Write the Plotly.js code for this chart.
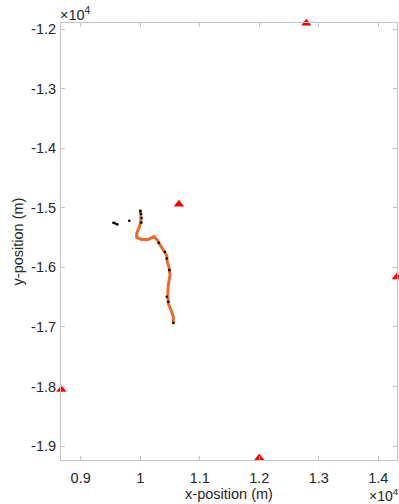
<!DOCTYPE html>
<html>
<head>
<meta charset="utf-8">
<script src="https://cdn.plot.ly/plotly-3.0.1.min.js"></script>
<style>html,body{margin:0;padding:0;background:#fff;}#chart{width:399px;height:504px;}</style>
</head>
<body>
<div id="chart"></div>
<script>
// Anchor (red triangle) positions
const anchorX = [12790, 12000, 8675, 14312, 10650];
const anchorY = [-11897, -19200, -18050, -16160, -14940];

// Trajectory (orange)
const pathX = [10002, 10013, 9985, 9941, 9941, 10025, 10136, 10232, 10282, 10333, 10388, 10445, 10455, 10489, 10501, 10472, 10462, 10472, 10529, 10556, 10556];
const pathY = [-15025, -15205, -15318, -15429, -15496, -15529, -15529, -15482, -15533, -15625, -15709, -15802, -15906, -16017, -16129, -16297, -16465, -16605, -16746, -16830, -16941];

// Black measurement points
const dotX = [9550, 9580, 9615, 9817, 10002, 10013, 10022, 10018, 10311, 10417, 10445, 10489, 10445, 10472, 10556];
const dotY = [-15250, -15262, -15277, -15217, -15054, -15104, -15171, -15247, -15587, -15738, -15849, -16045, -16494, -16578, -16931];

const xTickVals = [9000, 10000, 11000, 12000, 13000, 14000];
const xTickText = ['0.9', '1', '1.1', '1.2', '1.3', '1.4'];
const yTickVals = [-19000, -18000, -17000, -16000, -15000, -14000, -13000, -12000];
const yTickText = ['-1.9', '-1.8', '-1.7', '-1.6', '-1.5', '-1.4', '-1.3', '-1.2'];

const font = 'Liberation Sans, Arial, Helvetica, sans-serif';
const txt = '#262626';
const axCol = '#c4c4c4';
const fs = 14.5;

const traces = [
  {x: pathX, y: pathY, mode: 'lines', line: {color: '#EA6A2C', width: 3}, hoverinfo: 'skip'},
  {x: dotX, y: dotY, mode: 'markers', marker: {color: '#000', size: 2.6}, hoverinfo: 'skip'},
  {x: anchorX, y: anchorY, mode: 'markers', cliponaxis: false,
   marker: {symbol: 'triangle-up', color: '#FF0000', size: 9}, hoverinfo: 'skip'}
];

const axisCommon = {
  showgrid: false, zeroline: false, showline: true, linecolor: axCol, linewidth: 1,
  mirror: 'ticks', ticks: 'inside', ticklen: 4, tickcolor: axCol, tickwidth: 1,
  tickfont: {family: font, size: fs, color: txt}, tickmode: 'array'
};

const layout = {
  width: 399, height: 504,
  margin: {l: 61, r: 2, t: 23, b: 44},
  paper_bgcolor: '#fff', plot_bgcolor: '#fff',
  showlegend: false,
  xaxis: Object.assign({}, axisCommon, {
    range: [8669, 14314], tickvals: xTickVals, ticktext: xTickText, ticklabelstandoff: 5,
    title: {text: 'x-position (m)', font: {family: font, size: fs, color: txt}, standoff: 0}
  }),
  yaxis: Object.assign({}, axisCommon, {
    range: [-19235, -11894], tickvals: yTickVals, ticktext: yTickText, ticklabelstandoff: 1,
    title: {text: 'y-position (m)', font: {family: font, size: fs, color: txt}, standoff: 4}
  }),
  annotations: [
    {xref: 'paper', yref: 'paper', x: 0, y: 1, xanchor: 'left', yanchor: 'bottom', yshift: -1, xshift: -2,
     text: '×10<sup>4</sup>', showarrow: false, borderpad: 0, font: {family: font, size: fs, color: txt}},
    {xref: 'paper', yref: 'paper', x: 1, y: 0, xanchor: 'right', yanchor: 'top', yshift: -25, xshift: 3,
     text: '×10<sup>4</sup>', showarrow: false, borderpad: 0, font: {family: font, size: 14, color: txt}}
  ]
};

Plotly.newPlot('chart', traces, layout, {staticPlot: true, displayModeBar: false});
</script>
</body>
</html>
